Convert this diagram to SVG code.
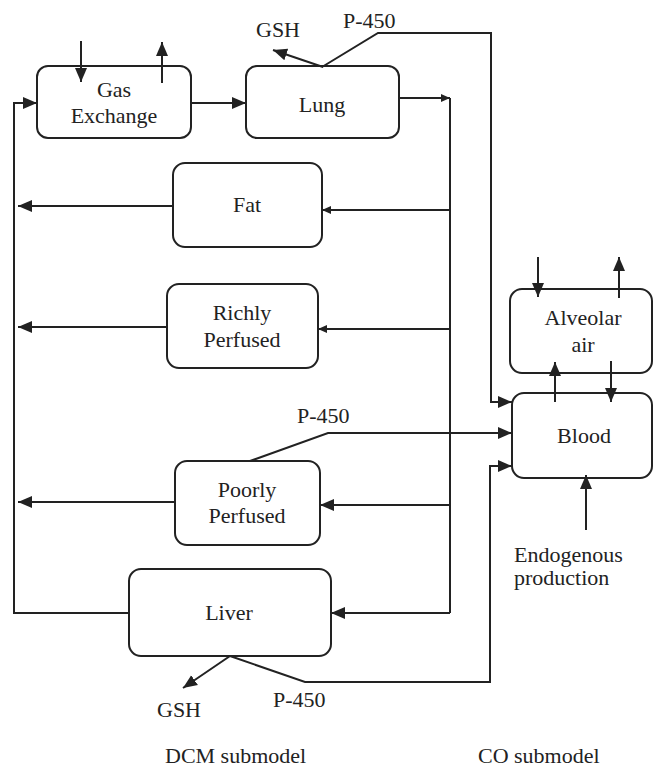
<svg xmlns="http://www.w3.org/2000/svg" width="654" height="767" viewBox="0 0 654 767">
<style>
.box{fill:#fff;stroke:#222;stroke-width:2}
.ln{fill:none;stroke:#222;stroke-width:2}
.big{marker-end:url(#ab)}
.sm{marker-end:url(#as)}
text{font-family:"Liberation Serif","Times New Roman",serif;font-size:22px;fill:#222}
.c{text-anchor:middle}
</style>
<defs>
<marker id="ab" markerUnits="userSpaceOnUse" markerWidth="14" markerHeight="14" viewBox="0 0 14 12" refX="14" refY="6" orient="auto">
<path d="M0,0 L14,6 L0,12 Z" fill="#222"/>
</marker>
<marker id="as" markerUnits="userSpaceOnUse" markerWidth="9" markerHeight="9" viewBox="0 0 9 8" refX="9" refY="4" orient="auto">
<path d="M0,0 L9,4 L0,8 Z" fill="#222"/>
</marker>
</defs>
<rect width="654" height="767" fill="#fff"/>
<g id="gas-exchange">
<rect class="box" x="37" y="66" width="154" height="72" rx="11"/>
<text class="c" x="114" y="97">Gas</text>
<text class="c" x="114" y="123">Exchange</text>
</g>
<g id="lung">
<rect class="box" x="246" y="66" width="153" height="72" rx="11"/>
<text class="c" x="322" y="112">Lung</text>
</g>
<g id="fat">
<rect class="box" x="173" y="163" width="149" height="84" rx="12"/>
<text class="c" x="247" y="212">Fat</text>
</g>
<g id="richly-perfused">
<rect class="box" x="167" y="284" width="151" height="84" rx="12"/>
<text class="c" x="242" y="320">Richly</text>
<text class="c" x="242" y="347">Perfused</text>
</g>
<g id="poorly-perfused">
<rect class="box" x="175" y="461" width="145" height="84" rx="12"/>
<text class="c" x="247" y="497">Poorly</text>
<text class="c" x="247" y="523">Perfused</text>
</g>
<g id="liver">
<rect class="box" x="129" y="569" width="202" height="87" rx="12"/>
<text class="c" x="229" y="620">Liver</text>
</g>
<g id="alveolar-air">
<rect class="box" x="510" y="289" width="142" height="84" rx="12"/>
<text class="c" x="583" y="325">Alveolar</text>
<text class="c" x="583" y="352">air</text>
</g>
<g id="blood">
<rect class="box" x="512" y="393" width="140" height="85" rx="12"/>
<text class="c" x="584" y="443">Blood</text>
</g>
<g id="connectors">
<path class="ln big" d="M81,41 V82"/>
<path class="ln big" d="M162,83 V42"/>
<path class="ln big" d="M129,613 H14 V103 H37"/>
<path class="ln big" d="M191,103 H246"/>
<path class="ln sm" d="M399,98 H450"/>
<path class="ln" d="M450,98 V613"/>
<path class="ln sm" d="M450,210 H322"/>
<path class="ln big" d="M173,206 H18"/>
<path class="ln sm" d="M450,329 H318"/>
<path class="ln big" d="M167,327 H18"/>
<path class="ln big" d="M450,505 H320"/>
<path class="ln big" d="M175,502 H18"/>
<path class="ln big" d="M450,613 H331"/>
<path class="ln big" d="M323,67 L273,50"/>
<path class="ln big" d="M322,67 L378,33 H491 V402 H512"/>
<path class="ln big" d="M250,461 L328,433 H512"/>
<path class="ln big" d="M230,656 L183,688"/>
<path class="ln big" d="M230,656 L305,682 H490 V466 H512"/>
<path class="ln big" d="M538,257 V297"/>
<path class="ln big" d="M619,298 V257"/>
<path class="ln big" d="M555,402 V362"/>
<path class="ln big" d="M611,361 V402"/>
<path class="ln big" d="M586,530 V475"/>
</g>
<g id="labels">
<text x="256" y="37">GSH</text>
<text x="343" y="28">P-450</text>
<text x="297" y="423">P-450</text>
<text x="157" y="717">GSH</text>
<text x="273" y="707">P-450</text>
<text x="514" y="562">Endogenous</text>
<text x="514" y="585">production</text>
<text x="165" y="763">DCM submodel</text>
<text x="478" y="763">CO submodel</text>
</g>
</svg>
